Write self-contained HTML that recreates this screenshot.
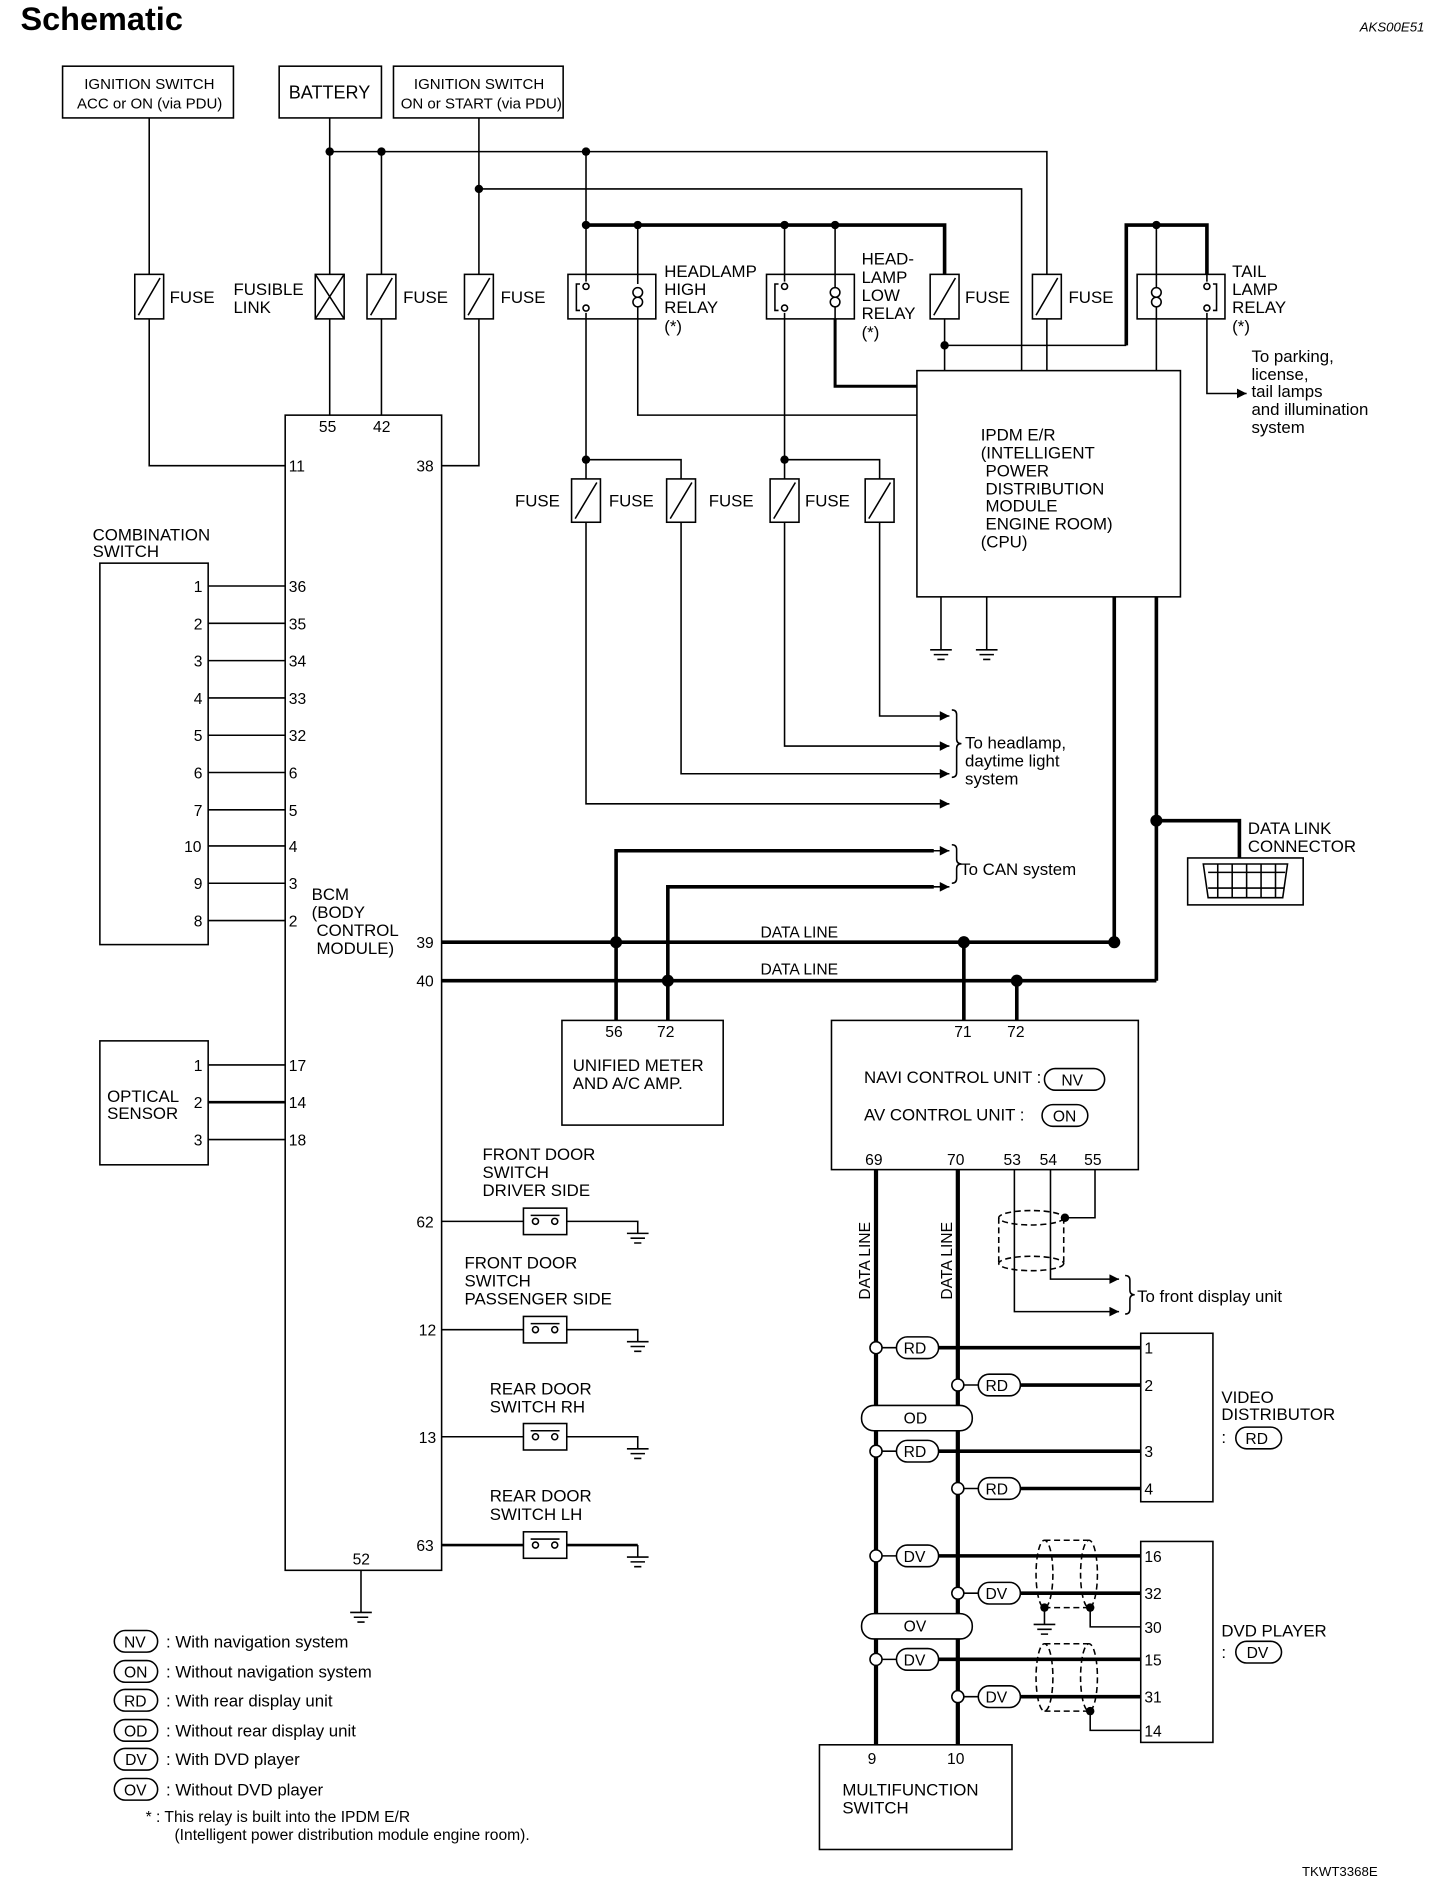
<!DOCTYPE html>
<html><head><meta charset="utf-8"><style>
html,body{margin:0;padding:0;background:#fff;}
svg{display:block;}
text{font-family:"Liberation Sans",Arial,sans-serif;fill:#000;}
</style></head><body>
<svg width="1456" height="1888" viewBox="0 0 1210 1569" xmlns="http://www.w3.org/2000/svg">
<defs>
<marker id="ar" viewBox="0 0 10 10" refX="10" refY="5" markerWidth="13" markerHeight="8" orient="auto" markerUnits="userSpaceOnUse"><path d="M0,0 L10,5 L0,10 z" fill="#000"/></marker>
</defs>
<text x="17" y="25" font-size="27" font-weight="bold">Schematic</text>
<text x="1130" y="26" font-size="11" font-style="italic">AKS00E51</text>

<g stroke="#000" stroke-width="1.3" fill="none">
<rect x="52" y="55" width="142" height="43"/>
<rect x="232" y="55" width="85" height="43"/>
<rect x="327" y="55" width="141" height="43"/>
<path d="M274,98 V228 M274,265 V345 M274,126 H870 V228 M870,265 V308 M317,126 V228 M317,265 V345"/>
<path d="M398,98 V228 M398,265 V387 H367 M398,157 H849 V308"/>
<path d="M124,98 V228 M124,265 V387 H237"/>
<path d="M487,126 V228"/>
<rect x="112" y="228" width="24" height="37"/><path d="M115,262 L133,231"/>
<rect x="262" y="228" width="24" height="37"/><path d="M262,228 L286,265 M286,228 L262,265"/>
<rect x="305" y="228" width="24" height="37"/><path d="M308,262 L326,231"/>
<rect x="386" y="228" width="24" height="37"/><path d="M389,262 L407,231"/>
<rect x="773" y="228" width="24" height="37"/><path d="M776,262 L794,231"/>
<rect x="858" y="228" width="24" height="37"/><path d="M861,262 L879,231"/>
<rect x="472" y="228" width="73" height="37"/>
<rect x="637" y="228" width="73" height="37"/>
<rect x="945" y="228" width="73" height="37"/>
<path d="M487,187 H785 V228 M936,287 V187 H1003 V228" stroke-width="3"/>
<path d="M530,187 V228 M652,187 V228 M694,187 V228 M961,187 V228"/>
<path d="M785,265 V308 M785,287 H936"/>
<path d="M482,236 H479 V258 H482 M487,228 V234 M487,260 V265"/>
<circle cx="487" cy="238" r="2.5"/><circle cx="487" cy="256" r="2.5"/>
<path d="M530,228 V236 M530,255 V265"/>
<circle cx="530" cy="243" r="4"/><circle cx="530" cy="251" r="4"/>
<path d="M647,236 H644 V258 H647 M652,228 V234 M652,260 V265"/>
<circle cx="652" cy="238" r="2.5"/><circle cx="652" cy="256" r="2.5"/>
<circle cx="694" cy="243" r="4"/><circle cx="694" cy="251" r="4"/>
<path d="M694,228 V239 M694,255 V265"/>
<circle cx="961" cy="243" r="4"/><circle cx="961" cy="251" r="4"/>
<path d="M961,228 V239 M961,255 V265"/>
<path d="M1008,236 H1011 V258 H1008 M1003,228 V234 M1003,260 V265"/>
<circle cx="1003" cy="238" r="2.5"/><circle cx="1003" cy="256" r="2.5"/>
<path d="M961,265 V308"/>
<path d="M1003,265 V327 H1036" marker-end="url(#ar)"/>
<path d="M530,265 V345 H762"/>
<path d="M694,265 V321 H762" stroke-width="2.5"/>
<path d="M487,265 V398 M487,434 V668 H789" marker-end="url(#ar)"/>
<path d="M487,382 H566 V398 M566,434 V643 H789" marker-end="url(#ar)"/>
<path d="M652,265 V398 M652,434 V620 H789" marker-end="url(#ar)"/>
<path d="M652,382 H731 V398 M731,434 V595 H789" marker-end="url(#ar)"/>
<rect x="475" y="398" width="24" height="36"/><path d="M478,431 L496,401"/>
<rect x="554" y="398" width="24" height="36"/><path d="M557,431 L575,401"/>
<rect x="640" y="398" width="24" height="36"/><path d="M643,431 L661,401"/>
<rect x="719" y="398" width="24" height="36"/><path d="M722,431 L740,401"/>
<path d="M791,590 q4,0 4,4 v20 q0,4 4,4 q-4,0 -4,4 v20 q0,4 -4,4"/>
<path d="M791,702 q4,0 4,4 v8 q0,4 4,4 q-4,0 -4,4 v8 q0,4 -4,4"/>
<path d="M935,1060 q4,0 4,4 v8 q0,4 4,4 q-4,0 -4,4 v8 q0,4 -4,4"/>
<rect x="762" y="308" width="219" height="188"/>
<path d="M782,496 V540 M773,540 H791 M776,544 H788 M779,548 H785"/>
<path d="M820,496 V540 M811,540 H829 M814,544 H826 M817,548 H823"/>
<path d="M926,496 V783 M961,496 V815 M961,682 H1030 V713" stroke-width="3"/>
<rect x="987" y="713" width="96" height="39"/>
<path d="M1000,718 H1070 L1066,746 H1004 Z"/>
<path d="M1004,725 H1068 M1004,738 H1067 M1012,718 V746 M1024,718 V746 M1036,718 V746 M1048,718 V746 M1060,718 V746"/>
<rect x="237" y="345" width="130" height="960"/>
<path d="M300,1305 V1340 M291,1340 H309 M294,1344 H306 M297,1348 H303"/>
<rect x="83" y="468" width="90" height="317"/>
<path d="M173,487 H237 M173,518 H237 M173,549 H237 M173,580 H237 M173,611 H237 M173,642 H237 M173,673 H237 M173,703 H237 M173,734 H237 M173,765 H237"/>
<rect x="83" y="865" width="90" height="103"/>
<path d="M173,885 H237 M173,947 H237"/><path d="M173,916 H237" stroke-width="2.2"/>
<path d="M367,783 H926 M367,815 H961" stroke-width="3"/>
<path d="M512,848 V707 H776 M555,848 V737 H776" stroke-width="3"/>
<path d="M774,707 H789" marker-end="url(#ar)"/><path d="M774,737 H789" marker-end="url(#ar)"/>
<path d="M801,783 V848 M845,815 V848" stroke-width="3"/>
<rect x="467" y="848" width="134" height="87"/>
<rect x="691" y="848" width="255" height="124"/>
<path d="M367,1015 H435 M471,1015 H530 V1025 M521,1025 H539 M524,1029 H536 M527,1033 H533"/>
<rect x="435" y="1004" width="36" height="22"/><path d="M441,1010 H465"/><circle cx="445" cy="1015" r="2.5"/><circle cx="461" cy="1015" r="2.5"/>
<path d="M367,1105 H435 M471,1105 H530 V1115 M521,1115 H539 M524,1119 H536 M527,1123 H533"/>
<rect x="435" y="1094" width="36" height="22"/><path d="M441,1100 H465"/><circle cx="445" cy="1105" r="2.5"/><circle cx="461" cy="1105" r="2.5"/>
<path d="M367,1194 H435 M471,1194 H530 V1204 M521,1204 H539 M524,1208 H536 M527,1212 H533"/>
<rect x="435" y="1183" width="36" height="22"/><path d="M441,1189 H465"/><circle cx="445" cy="1194" r="2.5"/><circle cx="461" cy="1194" r="2.5"/>
<path d="M367,1284 H435 M471,1284 H530" stroke-width="2.2"/><path d="M530,1284 V1294 M521,1294 H539 M524,1298 H536 M527,1302 H533"/>
<rect x="435" y="1273" width="36" height="22"/><path d="M441,1279 H465"/><circle cx="445" cy="1284" r="2.5"/><circle cx="461" cy="1284" r="2.5"/>
<path d="M728,972 V1450 M796,972 V1450" stroke-width="3.5"/>
<path d="M843,972 V1090 H930" marker-end="url(#ar)"/><path d="M873,972 V1063 H930" marker-end="url(#ar)"/>
<path d="M910,972 V1012 H885"/>
<g stroke-dasharray="5,3">
<ellipse cx="857" cy="1012" rx="27" ry="6"/><ellipse cx="857" cy="1050" rx="27" ry="6"/>
<path d="M830,1012 V1050 M884,1012 V1050"/>
</g>
<rect x="681" y="1450" width="160" height="87"/>
<rect x="948" y="1108" width="60" height="140"/>
<rect x="948" y="1281" width="60" height="167"/>
<path d="M745,1120 H948 M813,1151 H948 M745,1206 H948 M813,1237 H948 M745,1293 H948 M813,1324 H948 M745,1379 H948 M813,1410 H948" stroke-width="3"/>
<path d="M733,1120 H745 M801,1151 H813 M733,1206 H745 M801,1237 H813 M733,1293 H745 M801,1324 H813 M733,1379 H745 M801,1410 H813"/>
<g fill="#fff">
<circle cx="728" cy="1120" r="5"/><circle cx="796" cy="1151" r="5"/><circle cx="728" cy="1206" r="5"/><circle cx="796" cy="1237" r="5"/>
<circle cx="728" cy="1293" r="5"/><circle cx="796" cy="1324" r="5"/><circle cx="728" cy="1379" r="5"/><circle cx="796" cy="1410" r="5"/>
<rect x="745" y="1111" width="35" height="18" rx="9"/><rect x="813" y="1142" width="35" height="18" rx="9"/>
<rect x="745" y="1197" width="35" height="18" rx="9"/><rect x="813" y="1228" width="35" height="18" rx="9"/>
<rect x="745" y="1284" width="35" height="18" rx="9"/><rect x="813" y="1315" width="35" height="18" rx="9"/>
<rect x="745" y="1370" width="35" height="18" rx="9"/><rect x="813" y="1401" width="35" height="18" rx="9"/>
<rect x="716" y="1168" width="92" height="21" rx="10"/><rect x="716" y="1341" width="92" height="21" rx="10"/>
</g>
<g stroke-dasharray="5,3">
<ellipse cx="868" cy="1308" rx="7" ry="28"/><ellipse cx="905" cy="1308" rx="7" ry="28"/><path d="M868,1280 H905 M868,1336 H905"/>
<ellipse cx="868" cy="1394" rx="7" ry="28"/><ellipse cx="905" cy="1394" rx="7" ry="28"/><path d="M868,1366 H905 M868,1422 H905"/>
</g>
<path d="M906,1336 V1352 H948 M868,1336 V1350 M859,1350 H877 M862,1354 H874 M865,1358 H871 M906,1422 V1438 H948"/>
<rect x="95" y="1355" width="36" height="18" rx="9"/><rect x="95" y="1380" width="36" height="18" rx="9"/>
<rect x="95" y="1404" width="36" height="18" rx="9"/><rect x="95" y="1429" width="36" height="18" rx="9"/>
<rect x="95" y="1453" width="36" height="18" rx="9"/><rect x="95" y="1478" width="36" height="18" rx="9"/>
<rect x="868" y="888" width="50" height="18" rx="9"/><rect x="866" y="918" width="38" height="18" rx="9"/>
<rect x="1027" y="1186" width="38" height="18" rx="9"/><rect x="1027" y="1364" width="38" height="18" rx="9"/>
</g>
<g fill="#000">
<circle cx="274" cy="126" r="3.5"/><circle cx="317" cy="126" r="3.5"/><circle cx="487" cy="126" r="3.5"/><circle cx="398" cy="157" r="3.5"/>
<circle cx="487" cy="187" r="3.5"/><circle cx="530" cy="187" r="3.5"/><circle cx="652" cy="187" r="3.5"/><circle cx="694" cy="187" r="3.5"/><circle cx="961" cy="187" r="3.5"/>
<circle cx="785" cy="287" r="3.5"/><circle cx="487" cy="382" r="3.5"/><circle cx="652" cy="382" r="3.5"/>
<circle cx="961" cy="682" r="5"/><circle cx="926" cy="783" r="5"/><circle cx="512" cy="783" r="5"/><circle cx="555" cy="815" r="5"/><circle cx="801" cy="783" r="5"/><circle cx="845" cy="815" r="5"/>
<circle cx="885" cy="1012" r="3.5"/><circle cx="868" cy="1336" r="3.5"/><circle cx="906" cy="1336" r="3.5"/><circle cx="906" cy="1422" r="3.5"/>
</g>
<g font-size="14">
<text x="70" y="74" font-size="12.5">IGNITION SWITCH</text><text x="64" y="90" font-size="12.5">ACC or ON (via PDU)</text>
<text x="240" y="82" font-size="15">BATTERY</text>
<text x="344" y="74" font-size="12.5">IGNITION SWITCH</text><text x="333" y="90" font-size="12.5">ON or START (via PDU)</text>
<text x="141" y="252">FUSE</text><text x="194" y="245">FUSIBLE</text><text x="194" y="260">LINK</text>
<text x="335" y="252">FUSE</text><text x="416" y="252">FUSE</text>
<text x="552" y="230">HEADLAMP</text><text x="552" y="245">HIGH</text><text x="552" y="260">RELAY</text><text x="552" y="276">(*)</text>
<text x="716" y="220">HEAD-</text><text x="716" y="235">LAMP</text><text x="716" y="250">LOW</text><text x="716" y="265">RELAY</text><text x="716" y="281">(*)</text>
<text x="802" y="252">FUSE</text><text x="888" y="252">FUSE</text>
<text x="1024" y="230">TAIL</text><text x="1024" y="245">LAMP</text><text x="1024" y="260">RELAY</text><text x="1024" y="276">(*)</text>
<text x="1040" y="301">To parking,</text><text x="1040" y="316">license,</text><text x="1040" y="330">tail lamps</text><text x="1040" y="345">and illumination</text><text x="1040" y="360">system</text>
<text x="428" y="421">FUSE</text><text x="506" y="421">FUSE</text><text x="589" y="421">FUSE</text><text x="669" y="421">FUSE</text>
<text x="815" y="366">IPDM E/R</text><text x="815" y="381">(INTELLIGENT</text><text x="819" y="396">POWER</text><text x="819" y="411">DISTRIBUTION</text><text x="819" y="425">MODULE</text><text x="819" y="440">ENGINE ROOM)</text><text x="815" y="455">(CPU)</text>
<text x="802" y="622">To headlamp,</text><text x="802" y="637">daytime light</text><text x="802" y="652">system</text>
<text x="798" y="727">To CAN system</text>
<text x="1037" y="693">DATA LINK</text><text x="1037" y="708">CONNECTOR</text>
<text x="265" y="359" font-size="13">55</text><text x="310" y="359" font-size="13">42</text>
<text x="240" y="392" font-size="13">11</text><text x="346" y="392" font-size="13">38</text>
<text x="77" y="449">COMBINATION</text><text x="77" y="463">SWITCH</text>
<g font-size="13">
<text x="161" y="492">1</text><text x="161" y="523">2</text><text x="161" y="554">3</text><text x="161" y="585">4</text><text x="161" y="616">5</text><text x="161" y="647">6</text><text x="161" y="678">7</text><text x="153" y="708">10</text><text x="161" y="739">9</text><text x="161" y="770">8</text>
<text x="240" y="492">36</text><text x="240" y="523">35</text><text x="240" y="554">34</text><text x="240" y="585">33</text><text x="240" y="616">32</text><text x="240" y="647">6</text><text x="240" y="678">5</text><text x="240" y="708">4</text><text x="240" y="739">3</text><text x="240" y="770">2</text>
<text x="161" y="890">1</text><text x="161" y="921">2</text><text x="161" y="952">3</text>
<text x="240" y="890">17</text><text x="240" y="921">14</text><text x="240" y="952">18</text>
<text x="346" y="788">39</text><text x="346" y="820">40</text><text x="346" y="1020">62</text><text x="348" y="1110">12</text><text x="348" y="1199">13</text><text x="346" y="1289">63</text><text x="293" y="1300">52</text>
<text x="503" y="862">56</text><text x="546" y="862">72</text><text x="793" y="862">71</text><text x="837" y="862">72</text>
<text x="719" y="968">69</text><text x="787" y="968">70</text><text x="834" y="968">53</text><text x="864" y="968">54</text><text x="901" y="968">55</text>
<text x="721" y="1466">9</text><text x="787" y="1466">10</text>
<text x="951" y="1125">1</text><text x="951" y="1156">2</text><text x="951" y="1211">3</text><text x="951" y="1242">4</text>
<text x="951" y="1298">16</text><text x="951" y="1329">32</text><text x="951" y="1357">30</text><text x="951" y="1384">15</text><text x="951" y="1415">31</text><text x="951" y="1443">14</text>
</g>
<text x="259" y="748">BCM</text><text x="259" y="763">(BODY</text><text x="263" y="778">CONTROL</text><text x="263" y="793">MODULE)</text>
<text x="89" y="916">OPTICAL</text><text x="89" y="930">SENSOR</text>
<text x="632" y="779" font-size="13">DATA LINE</text><text x="632" y="810" font-size="13">DATA LINE</text>
<text x="476" y="890">UNIFIED METER</text><text x="476" y="905">AND A/C AMP.</text>
<text x="718" y="900">NAVI CONTROL UNIT :</text><text x="882" y="902" font-size="13">NV</text>
<text x="718" y="931">AV CONTROL UNIT :</text><text x="875" y="932" font-size="13">ON</text>
<text x="401" y="964">FRONT DOOR</text><text x="401" y="979">SWITCH</text><text x="401" y="994">DRIVER SIDE</text>
<text x="386" y="1054">FRONT DOOR</text><text x="386" y="1069">SWITCH</text><text x="386" y="1084">PASSENGER SIDE</text>
<text x="407" y="1159">REAR DOOR</text><text x="407" y="1174">SWITCH RH</text>
<text x="407" y="1248">REAR DOOR</text><text x="407" y="1263">SWITCH LH</text>
<text transform="translate(723,1080) rotate(-90)" font-size="13">DATA LINE</text>
<text transform="translate(791,1080) rotate(-90)" font-size="13">DATA LINE</text>
<text x="945" y="1082">To front display unit</text>
<g font-size="13"><text x="751" y="1125">RD</text><text x="819" y="1156">RD</text><text x="751" y="1183">OD</text><text x="751" y="1211">RD</text><text x="819" y="1242">RD</text>
<text x="751" y="1298">DV</text><text x="819" y="1329">DV</text><text x="751" y="1356">OV</text><text x="751" y="1384">DV</text><text x="819" y="1415">DV</text></g>
<text x="1015" y="1166">VIDEO</text><text x="1015" y="1180">DISTRIBUTOR</text><text x="1015" y="1199">:</text><text x="1035" y="1200" font-size="13">RD</text>
<text x="1015" y="1360">DVD PLAYER</text><text x="1015" y="1378">:</text><text x="1036" y="1378" font-size="13">DV</text>
<text x="700" y="1492">MULTIFUNCTION</text><text x="700" y="1507">SWITCH</text>
<g font-size="13"><text x="103" y="1369">NV</text><text x="103" y="1394">ON</text><text x="103" y="1418">RD</text><text x="103" y="1443">OD</text><text x="104" y="1467">DV</text><text x="103" y="1492">OV</text></g>
<text x="138" y="1369">: With navigation system</text><text x="138" y="1394">: Without navigation system</text><text x="138" y="1418">: With rear display unit</text><text x="138" y="1443">: Without rear display unit</text><text x="138" y="1467">: With DVD player</text><text x="138" y="1492">: Without DVD player</text>
<text x="121" y="1514" font-size="13">* : This relay is built into the IPDM E/R</text><text x="145" y="1529" font-size="13">(Intelligent power distribution module engine room).</text>
<text x="1082" y="1559" font-size="11">TKWT3368E</text>
</g>
</svg>
</body></html>
